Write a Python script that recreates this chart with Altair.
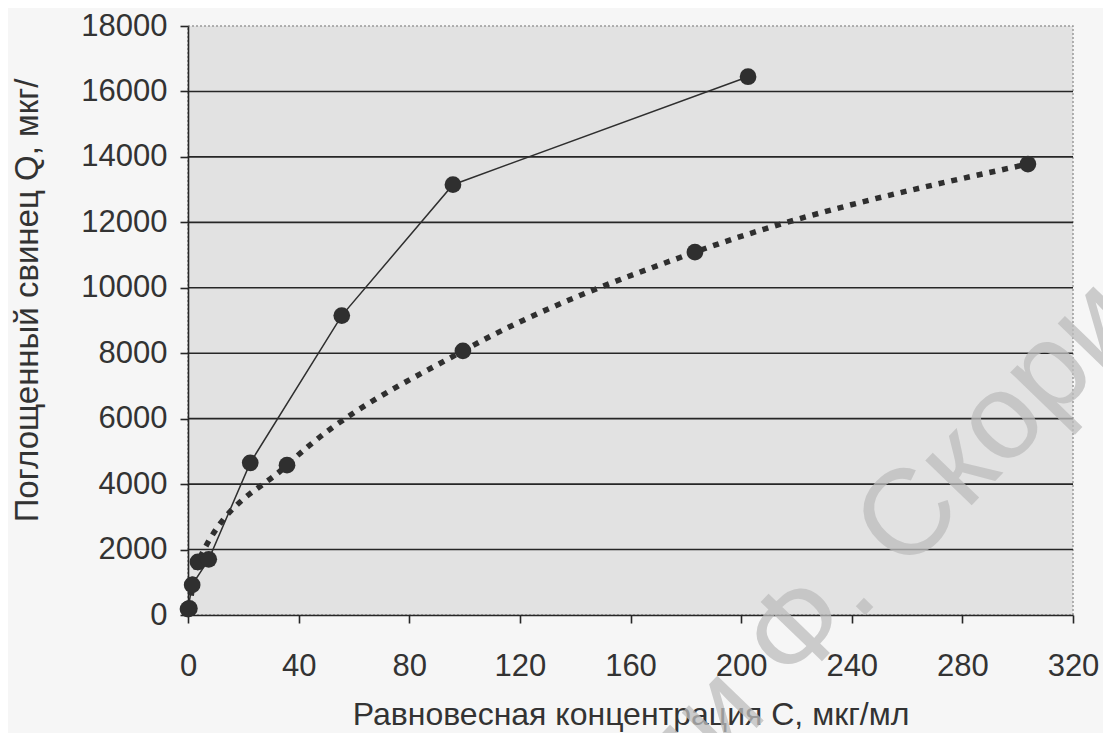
import altair as alt
import pandas as pd

# Solid series (straight segments)
solid_x = [0, 1.5, 7.5, 22.5, 55.6, 95.8, 202.5]
solid_y = [180, 920, 1700, 4650, 9150, 13150, 16450]
# Dotted series (smoothed)
dotted_x = [0.5, 3.6, 35.8, 99.4, 183.3, 303.7]
dotted_y = [200, 1620, 4580, 8070, 11090, 13780]

x_ticks = [0, 40, 80, 120, 160, 200, 240, 280, 320]
y_ticks = [0, 2000, 4000, 6000, 8000, 10000, 12000, 14000, 16000, 18000]
grid_vals = [2000, 4000, 6000, 8000, 10000, 12000, 14000, 16000]

x_title = "Равновесная концентрация C, мкг/мл"
y_title = "Поглощенный свинец Q, мкг/"

wm_text = ["ии Ф. Скорины"]
wm_x = [271]
wm_y = [3900]

solid = pd.DataFrame({"x": solid_x, "y": solid_y})
dotted = pd.DataFrame({"x": dotted_x, "y": dotted_y})
grid = pd.DataFrame({"y": grid_vals})
wm = pd.DataFrame({"t": wm_text, "x": wm_x, "y": wm_y})

INK = "#2f2f2f"
FONT = "Liberation Sans"

xs = alt.Scale(domain=[0, 320], nice=False, zero=False)
ys = alt.Scale(domain=[0, 18000], nice=False)

xax = alt.Axis(values=x_ticks, title=x_title, grid=False, tickSize=8, format="d",
               labelFlush=False, labelPadding=28, titleY=109,
               titleBaseline="alphabetic", titleFontSize=32)
yax = alt.Axis(values=y_ticks, title=y_title, grid=False, tickSize=8, format="d",
               labelFlush=False, labelPadding=13, titleX=-161, titleY=274,
               titleAngle=270, titleBaseline="middle", titleAlign="center",
               titleFontSize=33)

base_x = alt.X("x:Q", scale=xs, axis=xax)
base_y = alt.Y("y:Q", scale=ys, axis=yax)

watermark = alt.Chart(wm).mark_text(
    angle=314, fontSize=122, font=FONT, color="#bdbdbd", opacity=0.75,
    align="center", baseline="middle", clip=False
).encode(x=alt.X("x:Q", scale=xs), y=alt.Y("y:Q", scale=ys), text="t:N")

gridlines = alt.Chart(grid).mark_rule(color="#262626", strokeWidth=1.6).encode(
    y=alt.Y("y:Q", scale=ys)
)

solid_line = alt.Chart(solid).mark_line(color=INK, strokeWidth=1.5).encode(
    x=base_x, y=base_y
)
solid_pts = alt.Chart(solid).mark_point(
    filled=True, shape="circle", size=280, color=INK, opacity=1
).encode(x=base_x, y=base_y)

dotted_line = alt.Chart(dotted).mark_line(
    color=INK, strokeWidth=5.5, strokeDash=[6, 7], interpolate="monotone"
).encode(x=base_x, y=base_y)
dotted_pts = alt.Chart(dotted).mark_point(
    filled=True, shape="circle", size=280, color=INK, opacity=1
).encode(x=base_x, y=base_y)

chart = alt.layer(
    gridlines, watermark, dotted_line, solid_line, dotted_pts, solid_pts
).properties(
    width=885, height=589,
    autosize=alt.AutoSizeParams(type="none"),
    padding={"left": 180, "top": 18, "right": 30, "bottom": 118},
    background="#f6f6f6",
).configure_view(
    fill="#e2e2e2", stroke="#9a9a9a", strokeWidth=1.5, strokeDash=[2, 2]
).configure_axis(
    labelFont=FONT, titleFont=FONT, labelFontSize=31,
    labelColor="#333333", titleColor="#333333", titleFontWeight="normal",
    domainColor="#262626", domainWidth=1.6, tickColor="#262626", tickWidth=1.6,
)

chart.save("out.html", embed_options={"renderer": "svg", "actions": False})
